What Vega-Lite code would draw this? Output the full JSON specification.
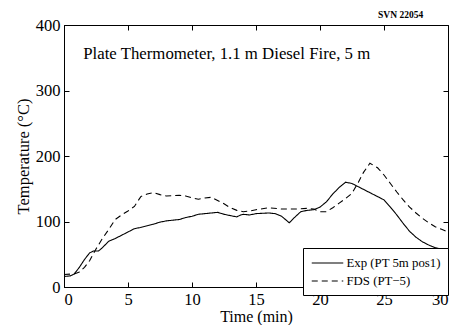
{
  "$schema": "https://vega.github.io/schema/vega-lite/v6.json",
  "width": 384,
  "height": 262,
  "autosize": "none",
  "padding": {"left": 64, "top": 25, "right": 10, "bottom": 38},
  "background": "white",
  "config": {
    "font": "Liberation Serif",
    "view": {"stroke": "black", "strokeWidth": 1},
    "axis": {
      "domainColor": "black",
      "tickColor": "black",
      "labelColor": "black",
      "titleColor": "black",
      "grid": false,
      "tickSize": -5,
      "labelFont": "Liberation Serif",
      "titleFont": "Liberation Serif",
      "labelFontSize": 16.5,
      "titleFontSize": 16.5,
      "titleFontWeight": "normal"
    }
  },
  "title": {
    "text": "SVN 22054",
    "anchor": "end",
    "fontSize": 9.5,
    "fontWeight": "bold",
    "font": "Liberation Serif",
    "color": "black",
    "dx": -27,
    "offset": -2
  },
  "datasets": {
    "curves": [
      {"t": 0, "T": 16, "s": "Exp (PT 5m pos1)"},
      {"t": 0.5, "T": 17, "s": "Exp (PT 5m pos1)"},
      {"t": 0.8, "T": 20, "s": "Exp (PT 5m pos1)"},
      {"t": 1.2, "T": 30, "s": "Exp (PT 5m pos1)"},
      {"t": 1.6, "T": 42, "s": "Exp (PT 5m pos1)"},
      {"t": 2, "T": 52, "s": "Exp (PT 5m pos1)"},
      {"t": 2.3, "T": 55, "s": "Exp (PT 5m pos1)"},
      {"t": 2.7, "T": 55, "s": "Exp (PT 5m pos1)"},
      {"t": 3, "T": 60, "s": "Exp (PT 5m pos1)"},
      {"t": 3.5, "T": 70, "s": "Exp (PT 5m pos1)"},
      {"t": 4, "T": 74, "s": "Exp (PT 5m pos1)"},
      {"t": 4.5, "T": 79, "s": "Exp (PT 5m pos1)"},
      {"t": 5, "T": 84, "s": "Exp (PT 5m pos1)"},
      {"t": 5.5, "T": 89, "s": "Exp (PT 5m pos1)"},
      {"t": 6, "T": 91, "s": "Exp (PT 5m pos1)"},
      {"t": 7, "T": 96, "s": "Exp (PT 5m pos1)"},
      {"t": 7.5, "T": 99, "s": "Exp (PT 5m pos1)"},
      {"t": 8, "T": 101, "s": "Exp (PT 5m pos1)"},
      {"t": 9, "T": 103, "s": "Exp (PT 5m pos1)"},
      {"t": 9.5, "T": 106, "s": "Exp (PT 5m pos1)"},
      {"t": 10, "T": 108, "s": "Exp (PT 5m pos1)"},
      {"t": 10.5, "T": 111, "s": "Exp (PT 5m pos1)"},
      {"t": 11, "T": 112, "s": "Exp (PT 5m pos1)"},
      {"t": 12, "T": 114, "s": "Exp (PT 5m pos1)"},
      {"t": 12.5, "T": 111, "s": "Exp (PT 5m pos1)"},
      {"t": 13, "T": 109, "s": "Exp (PT 5m pos1)"},
      {"t": 13.5, "T": 107, "s": "Exp (PT 5m pos1)"},
      {"t": 13.8, "T": 110, "s": "Exp (PT 5m pos1)"},
      {"t": 14, "T": 111, "s": "Exp (PT 5m pos1)"},
      {"t": 14.5, "T": 110, "s": "Exp (PT 5m pos1)"},
      {"t": 15, "T": 112, "s": "Exp (PT 5m pos1)"},
      {"t": 16, "T": 113, "s": "Exp (PT 5m pos1)"},
      {"t": 16.5, "T": 112, "s": "Exp (PT 5m pos1)"},
      {"t": 17, "T": 108, "s": "Exp (PT 5m pos1)"},
      {"t": 17.3, "T": 103, "s": "Exp (PT 5m pos1)"},
      {"t": 17.6, "T": 98, "s": "Exp (PT 5m pos1)"},
      {"t": 18, "T": 106, "s": "Exp (PT 5m pos1)"},
      {"t": 18.5, "T": 115, "s": "Exp (PT 5m pos1)"},
      {"t": 19, "T": 117, "s": "Exp (PT 5m pos1)"},
      {"t": 19.5, "T": 118, "s": "Exp (PT 5m pos1)"},
      {"t": 20, "T": 122, "s": "Exp (PT 5m pos1)"},
      {"t": 20.5, "T": 130, "s": "Exp (PT 5m pos1)"},
      {"t": 21, "T": 142, "s": "Exp (PT 5m pos1)"},
      {"t": 21.5, "T": 152, "s": "Exp (PT 5m pos1)"},
      {"t": 22, "T": 160, "s": "Exp (PT 5m pos1)"},
      {"t": 22.5, "T": 158, "s": "Exp (PT 5m pos1)"},
      {"t": 23, "T": 153, "s": "Exp (PT 5m pos1)"},
      {"t": 23.5, "T": 148, "s": "Exp (PT 5m pos1)"},
      {"t": 24, "T": 143, "s": "Exp (PT 5m pos1)"},
      {"t": 24.5, "T": 138, "s": "Exp (PT 5m pos1)"},
      {"t": 25, "T": 133, "s": "Exp (PT 5m pos1)"},
      {"t": 25.5, "T": 122, "s": "Exp (PT 5m pos1)"},
      {"t": 26, "T": 110, "s": "Exp (PT 5m pos1)"},
      {"t": 26.5, "T": 97, "s": "Exp (PT 5m pos1)"},
      {"t": 27, "T": 85, "s": "Exp (PT 5m pos1)"},
      {"t": 27.5, "T": 76, "s": "Exp (PT 5m pos1)"},
      {"t": 28, "T": 69, "s": "Exp (PT 5m pos1)"},
      {"t": 28.5, "T": 64, "s": "Exp (PT 5m pos1)"},
      {"t": 29, "T": 60, "s": "Exp (PT 5m pos1)"},
      {"t": 30, "T": 56, "s": "Exp (PT 5m pos1)"},
      {"t": 0, "T": 19, "s": "FDS (PT−5)"},
      {"t": 0.8, "T": 20, "s": "FDS (PT−5)"},
      {"t": 1.2, "T": 23, "s": "FDS (PT−5)"},
      {"t": 1.6, "T": 30, "s": "FDS (PT−5)"},
      {"t": 2, "T": 40, "s": "FDS (PT−5)"},
      {"t": 2.5, "T": 58, "s": "FDS (PT−5)"},
      {"t": 3, "T": 74, "s": "FDS (PT−5)"},
      {"t": 3.5, "T": 88, "s": "FDS (PT−5)"},
      {"t": 4, "T": 103, "s": "FDS (PT−5)"},
      {"t": 4.5, "T": 110, "s": "FDS (PT−5)"},
      {"t": 5, "T": 116, "s": "FDS (PT−5)"},
      {"t": 5.5, "T": 123, "s": "FDS (PT−5)"},
      {"t": 6, "T": 138, "s": "FDS (PT−5)"},
      {"t": 6.5, "T": 142, "s": "FDS (PT−5)"},
      {"t": 7, "T": 144, "s": "FDS (PT−5)"},
      {"t": 7.5, "T": 141, "s": "FDS (PT−5)"},
      {"t": 8, "T": 139, "s": "FDS (PT−5)"},
      {"t": 9, "T": 140, "s": "FDS (PT−5)"},
      {"t": 9.5, "T": 139, "s": "FDS (PT−5)"},
      {"t": 10, "T": 136, "s": "FDS (PT−5)"},
      {"t": 10.5, "T": 134, "s": "FDS (PT−5)"},
      {"t": 11, "T": 136, "s": "FDS (PT−5)"},
      {"t": 11.5, "T": 137, "s": "FDS (PT−5)"},
      {"t": 12, "T": 132, "s": "FDS (PT−5)"},
      {"t": 12.5, "T": 127, "s": "FDS (PT−5)"},
      {"t": 13, "T": 121, "s": "FDS (PT−5)"},
      {"t": 13.5, "T": 117, "s": "FDS (PT−5)"},
      {"t": 14, "T": 115, "s": "FDS (PT−5)"},
      {"t": 14.5, "T": 116, "s": "FDS (PT−5)"},
      {"t": 15, "T": 118, "s": "FDS (PT−5)"},
      {"t": 16, "T": 121, "s": "FDS (PT−5)"},
      {"t": 17, "T": 119, "s": "FDS (PT−5)"},
      {"t": 18, "T": 119, "s": "FDS (PT−5)"},
      {"t": 19, "T": 120, "s": "FDS (PT−5)"},
      {"t": 19.5, "T": 119, "s": "FDS (PT−5)"},
      {"t": 20, "T": 115, "s": "FDS (PT−5)"},
      {"t": 20.5, "T": 115, "s": "FDS (PT−5)"},
      {"t": 21, "T": 121, "s": "FDS (PT−5)"},
      {"t": 21.5, "T": 128, "s": "FDS (PT−5)"},
      {"t": 22, "T": 135, "s": "FDS (PT−5)"},
      {"t": 22.5, "T": 143, "s": "FDS (PT−5)"},
      {"t": 23, "T": 160, "s": "FDS (PT−5)"},
      {"t": 23.4, "T": 175, "s": "FDS (PT−5)"},
      {"t": 23.9, "T": 189, "s": "FDS (PT−5)"},
      {"t": 24.5, "T": 182, "s": "FDS (PT−5)"},
      {"t": 25, "T": 171, "s": "FDS (PT−5)"},
      {"t": 25.5, "T": 158, "s": "FDS (PT−5)"},
      {"t": 26, "T": 145, "s": "FDS (PT−5)"},
      {"t": 26.5, "T": 133, "s": "FDS (PT−5)"},
      {"t": 27, "T": 122, "s": "FDS (PT−5)"},
      {"t": 27.5, "T": 113, "s": "FDS (PT−5)"},
      {"t": 28, "T": 105, "s": "FDS (PT−5)"},
      {"t": 28.5, "T": 98, "s": "FDS (PT−5)"},
      {"t": 29, "T": 92, "s": "FDS (PT−5)"},
      {"t": 29.5, "T": 88, "s": "FDS (PT−5)"},
      {"t": 30, "T": 84, "s": "FDS (PT−5)"}
    ],
    "note": [
      {"t": 1.5, "T": 355, "label": "Plate Thermometer, 1.1 m Diesel Fire, 5 m"}
    ]
  },
  "layer": [
    {
      "data": {"name": "curves"},
      "mark": {"type": "line", "color": "black", "strokeWidth": 1.1},
      "encoding": {
        "x": {
          "field": "t", "type": "quantitative",
          "scale": {"domain": [0, 30], "nice": false, "zero": false},
          "axis": {"title": "Time (min)", "values": [0, 5, 10, 15, 20, 25, 30], "labelBaseline": "alphabetic", "labelPadding": 22, "titleBaseline": "alphabetic", "titleY": 34, "titleFontSize": 16}
        },
        "y": {
          "field": "T", "type": "quantitative",
          "scale": {"domain": [0, 400], "nice": false},
          "axis": {"title": "Temperature (°C)", "values": [0, 100, 200, 300, 400], "labelPadding": 9, "titlePadding": 4}
        },
        "strokeDash": {
          "field": "s", "type": "nominal",
          "scale": {"domain": ["Exp (PT 5m pos1)", "FDS (PT−5)"], "range": [[1, 0], [6, 4]]},
          "legend": {
            "title": null,
            "orient": "none",
            "legendX": 239,
            "legendY": 223,
            "strokeColor": "black",
            "fillColor": "white",
            "padding": 6.5,
            "rowPadding": 2,
            "symbolType": "M-2.1,0H2.1",
            "symbolSize": 225,
            "symbolOffset": 9.5,
            "labelOffset": 10.5,
            "symbolStrokeWidth": 1.1,
            "symbolStrokeColor": "black",
            "symbolFillColor": "transparent",
            "labelFont": "Liberation Serif",
            "labelFontSize": 12.8,
            "labelColor": "black"
          }
        }
      }
    },
    {
      "data": {"name": "note"},
      "mark": {"type": "text", "align": "left", "baseline": "middle", "fontSize": 16.8, "font": "Liberation Serif", "color": "black"},
      "encoding": {
        "x": {"field": "t", "type": "quantitative", "axis": {"orient": "top", "labels": false, "title": null, "domain": false, "values": [0, 5, 10, 15, 20, 25, 30]}},
        "y": {"field": "T", "type": "quantitative", "axis": {"orient": "right", "labels": false, "title": null, "domain": false, "values": [0, 100, 200, 300, 400]}},
        "text": {"field": "label"}
      }
    }
  ],
  "resolve": {"axis": {"x": "independent", "y": "independent"}}
}
